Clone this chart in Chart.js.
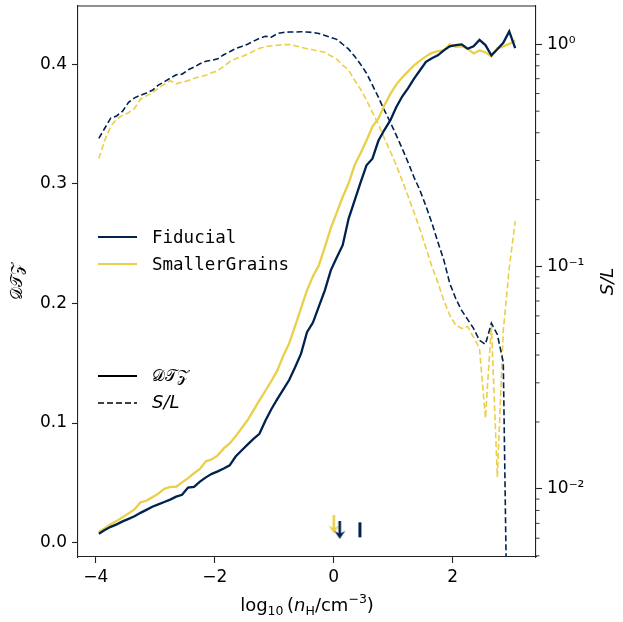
<!DOCTYPE html>
<html><head><meta charset="utf-8">
<script src="https://cdn.jsdelivr.net/npm/chart.js@4.4.0/dist/chart.umd.min.js"></script>
<style>html,body{margin:0;padding:0;background:#fff;}#wrap{width:623px;height:622px;}</style>
</head><body><div id="wrap"><canvas id="c" width="623" height="622"></canvas></div>
<script>
// ---------------- data ----------------
const logNH = [-3.95,-3.85,-3.75,-3.65,-3.55,-3.45,-3.35,-3.25,-3.15,-3.05,
  -2.95,-2.85,-2.75,-2.65,-2.55,-2.45,-2.35,-2.25,-2.15,-2.05,
  -1.95,-1.85,-1.75,-1.65,-1.55,-1.45,-1.35,-1.25,-1.15,-1.05,
  -0.95,-0.85,-0.75,-0.65,-0.55,-0.45,-0.35,-0.25,-0.15,-0.05,
  0.05,0.15,0.25,0.35,0.45,0.55,0.65,0.75,0.85,0.95,
  1.05,1.15,1.25,1.35,1.45,1.55,1.65,1.75,1.85,1.95,
  2.05,2.15,2.25,2.35,2.45,2.55,2.65,2.75,2.85,2.95,3.05];
const dtzFiducial = [0.0075,0.0105,0.0132,0.0153,0.0178,0.0199,0.022,0.0249,0.0274,0.030,
  0.032,0.034,0.036,0.0385,0.040,0.046,0.0467,0.051,0.0546,0.0575,
  0.0596,0.062,0.0646,0.072,0.077,0.082,0.0868,0.091,0.102,0.1115,
  0.120,0.128,0.136,0.1466,0.158,0.176,0.184,0.1976,0.211,0.2277,
  0.2385,0.2487,0.271,0.286,0.301,0.3155,0.321,0.336,0.345,0.353,
  0.364,0.373,0.380,0.388,0.395,0.402,0.405,0.4075,0.4116,0.415,
  0.416,0.4166,0.413,0.415,0.4204,0.416,0.4075,0.4125,0.418,0.4275,0.4135];
const dtzSmaller = [0.0089,0.012,0.0153,0.0182,0.0212,0.0245,0.0278,0.0337,0.035,0.038,
  0.041,0.045,0.0467,0.0467,0.0504,0.054,0.058,0.0617,0.068,0.0697,
  0.073,0.0788,0.083,0.0889,0.0956,0.1023,0.1106,0.119,0.127,0.135,
  0.144,0.156,0.1666,0.181,0.196,0.211,0.2227,0.232,0.247,0.263,
  0.276,0.289,0.3005,0.3155,0.3255,0.3363,0.3478,0.3545,0.3656,0.375,
  0.383,0.389,0.394,0.399,0.403,0.4066,0.4095,0.411,0.4115,0.4166,
  0.4145,0.415,0.413,0.409,0.4115,0.410,0.4066,0.4133,0.415,0.417,0.4198];
const slFiducial = [0.377,0.419,0.465,0.476,0.500,0.548,0.574,0.590,0.603,0.621,
  0.655,0.678,0.703,0.729,0.733,0.767,0.789,0.817,0.839,0.847,
  0.861,0.897,0.925,0.957,0.977,1.0,1.032,1.064,1.086,1.075,
  1.117,1.130,1.135,1.135,1.138,1.135,1.130,1.117,1.096,1.074,
  1.052,1.0,0.951,0.883,0.813,0.741,0.655,0.578,0.505,0.446,
  0.390,0.340,0.294,0.252,0.220,0.187,0.157,0.129,0.107,0.0841,
  0.0719,0.0635,0.0579,0.0527,0.0466,0.0447,0.0556,0.0495,0.0371,0.0005,0.0001];
const slSmaller = [0.306,0.370,0.428,0.460,0.480,0.492,0.515,0.566,0.586,0.607,
  0.634,0.661,0.685,0.664,0.675,0.685,0.703,0.715,0.726,0.745,
  0.760,0.796,0.834,0.861,0.879,0.902,0.931,0.959,0.975,0.984,
  0.990,0.995,0.998,0.984,0.969,0.955,0.944,0.931,0.920,0.887,
  0.857,0.805,0.764,0.689,0.628,0.560,0.494,0.437,0.378,0.330,
  0.286,0.244,0.207,0.175,0.147,0.121,0.100,0.0849,0.0705,0.0604,
  0.0545,0.0527,0.0538,0.0481,0.0429,0.0208,0.0545,0.0113,0.0516,0.0982,0.160];
// bottom markers (x = log10 nH, y = DTZ)
const arrowSmaller = [{x: 0.0, y: 0.0153}];
const arrowFiducial = [{x: 0.1, y: 0.0107}];
const barFiducial = [{x: 0.44, y: 0.0107}];
// ticks
const xTicks = [-4, -2, 0, 2];
const yTicks = [0.0, 0.1, 0.2, 0.3, 0.4];
const slTicks = [0.01, 0.1, 1];
const slTickLabels = ['10\u207B\u00B2', '10\u207B\u00B9', '10\u2070'];
const seriesNames = ['Fiducial', 'SmallerGrains'];
const styleNames = ['\uD835\uDC9F\uD835\uDCAF\uD835\uDCB5', 'S/L'];

// ---------------- styles ----------------
const DARK = '#00224e';
const YELLOW = '#eacf48';
const AX = '#222';
const AREA = {left: 78, top: 6, right: 536, bottom: 557};

function makeArrow(color) {
  const c = document.createElement('canvas');
  c.width = 12; c.height = 18;
  const g = c.getContext('2d');
  g.strokeStyle = color; g.fillStyle = color; g.lineWidth = 2.6;
  g.beginPath(); g.moveTo(6, 0); g.lineTo(6, 13); g.stroke();
  g.beginPath(); g.moveTo(0.5, 10); g.lineTo(6, 18); g.lineTo(11.5, 10); g.lineTo(6, 13); g.closePath(); g.fill();
  return c;
}

const fitTo = (prop, val) => (s) => {
  s[prop] = val;
  s.paddingTop = 0; s.paddingBottom = 0; s.paddingLeft = 0; s.paddingRight = 0;
};
const tickFont = {family: 'DejaVu Sans', size: 17};

const extras = {
  id: 'extras',
  afterLayout(chart) {
    const a = chart.chartArea;
    Object.assign(a, AREA);
    a.width = AREA.right - AREA.left; a.height = AREA.bottom - AREA.top;
    const {x, y, y2} = chart.scales;
    [y, y2].forEach(s => { s.top = AREA.top; s.bottom = AREA.bottom; s.height = AREA.bottom - AREA.top; });
    y.right = AREA.left; y.left = 0; y.width = AREA.left;
    y2.left = AREA.right; y2.right = 623; y2.width = 623 - AREA.right;
    x.left = AREA.left; x.right = AREA.right; x.width = AREA.right - AREA.left;
    x.top = AREA.bottom; x.bottom = 622; x.height = 622 - AREA.bottom;
    [x, y, y2].forEach(s => s.configure());
  },
  afterDraw(chart) {
    const ctx = chart.ctx, a = chart.chartArea;
    const y2 = chart.scales.y2;
    ctx.save();
    // top spine
    ctx.strokeStyle = AX; ctx.lineWidth = 1.1;
    ctx.beginPath(); ctx.moveTo(a.left, a.top); ctx.lineTo(a.right, a.top); ctx.stroke();
    // minor log ticks on the right axis
    ctx.lineWidth = 0.9;
    for (let e = -3; e <= 0; e++) {
      for (let m = 2; m <= 9; m++) {
        const v = m * Math.pow(10, e);
        if (v < y2.min || v > y2.max) continue;
        const py = y2.getPixelForValue(v);
        ctx.beginPath(); ctx.moveTo(a.right, py); ctx.lineTo(a.right + 3.5, py); ctx.stroke();
      }
    }
    ctx.fillStyle = '#000';
    // left title
    ctx.save();
    ctx.translate(18, (a.top + a.bottom) / 2); ctx.rotate(-Math.PI / 2);
    ctx.font = '15.5px "DejaVu Sans", "DejaVu Serif", serif';
    ctx.textAlign = 'center'; ctx.textBaseline = 'middle';
    ctx.fillText(styleNames[0], 0, 0);
    ctx.restore();
    // right title
    ctx.save();
    ctx.translate(608, (a.top + a.bottom) / 2); ctx.rotate(-Math.PI / 2);
    ctx.font = 'italic 18px "DejaVu Sans"';
    ctx.textAlign = 'center'; ctx.textBaseline = 'middle';
    ctx.fillText(styleNames[1], 0, 0);
    ctx.restore();
    // x title with sub/superscripts
    const parts = [
      ['log', '18px "DejaVu Sans"', 0], ['10', '12.5px "DejaVu Sans"', 4],
      ['\u2009(', '18px "DejaVu Sans"', 0], ['n', 'italic 18px "DejaVu Sans"', 0],
      ['H', '12.5px "DejaVu Sans"', 4], ['/cm', '18px "DejaVu Sans"', 0],
      ['\u22123', '12.5px "DejaVu Sans"', -8], [')', '18px "DejaVu Sans"', 0]
    ];
    let w = 0;
    parts.forEach(p => { ctx.font = p[1]; w += ctx.measureText(p[0]).width; });
    let x = (a.left + a.right) / 2 - w / 2;
    ctx.textAlign = 'left'; ctx.textBaseline = 'alphabetic';
    parts.forEach(p => { ctx.font = p[1]; ctx.fillText(p[0], x, 611 + p[2]); x += ctx.measureText(p[0]).width; });
    // legends
    const L0 = 98, L1 = 137, TX = 152;
    ctx.textBaseline = 'middle';
    ctx.lineWidth = 2.2; ctx.setLineDash([]);
    ctx.strokeStyle = DARK; ctx.beginPath(); ctx.moveTo(L0, 237); ctx.lineTo(L1, 237); ctx.stroke();
    ctx.strokeStyle = YELLOW; ctx.beginPath(); ctx.moveTo(L0, 264); ctx.lineTo(L1, 264); ctx.stroke();
    ctx.font = '17.5px "DejaVu Sans Mono"';
    ctx.fillText(seriesNames[0], TX, 238);
    ctx.fillText(seriesNames[1], TX, 265);
    ctx.strokeStyle = '#000';
    ctx.beginPath(); ctx.moveTo(L0, 376); ctx.lineTo(L1, 376); ctx.stroke();
    ctx.lineWidth = 1.6; ctx.setLineDash([6, 3]);
    ctx.beginPath(); ctx.moveTo(L0, 403); ctx.lineTo(L1, 403); ctx.stroke();
    ctx.setLineDash([]);
    ctx.font = '15.5px "DejaVu Sans", "DejaVu Serif", serif';
    ctx.fillText(styleNames[0], TX, 377);
    ctx.font = 'italic 18px "DejaVu Sans"';
    ctx.fillText(styleNames[1], TX, 403);
    ctx.restore();
  }
};

const pts = (xs, ys) => xs.map((x, i) => ({x: x, y: ys[i]}));

new Chart(document.getElementById('c'), {
  type: 'scatter',
  data: {
    datasets: [
      {label: 'SL ' + seriesNames[1], data: pts(logNH, slSmaller), yAxisID: 'y2', showLine: true,
       borderColor: YELLOW, borderWidth: 1.6, borderDash: [6, 3], pointRadius: 0, order: 8},
      {label: 'SL ' + seriesNames[0], data: pts(logNH, slFiducial), yAxisID: 'y2', showLine: true,
       borderColor: DARK, borderWidth: 1.6, borderDash: [6, 3], pointRadius: 0, order: 7},
      {label: 'DTZ ' + seriesNames[1], data: pts(logNH, dtzSmaller), yAxisID: 'y', showLine: true,
       borderColor: YELLOW, borderWidth: 2.3, pointRadius: 0, order: 6},
      {label: 'DTZ ' + seriesNames[0], data: pts(logNH, dtzFiducial), yAxisID: 'y', showLine: true,
       borderColor: DARK, borderWidth: 2.3, pointRadius: 0, order: 5},
      {label: 'arrowS', data: arrowSmaller, yAxisID: 'y', pointStyle: makeArrow(YELLOW), order: 3},
      {label: 'arrowF', data: arrowFiducial, yAxisID: 'y', pointStyle: makeArrow(DARK), order: 2},
      {label: 'barF', data: barFiducial, yAxisID: 'y', pointStyle: 'line', rotation: 90, radius: 7.5,
       pointRadius: 7.5, borderWidth: 3, borderColor: DARK, backgroundColor: DARK, order: 1}
    ]
  },
  options: {
    responsive: false, animation: false, devicePixelRatio: 1,
    layout: {padding: {top: 6, left: 0, right: 0, bottom: 0}},
    plugins: {legend: {display: false}, tooltip: {enabled: false}},
    elements: {line: {tension: 0}},
    scales: {
      x: {type: 'linear', position: 'bottom', min: -4.3, max: 3.4,
        grid: {drawOnChartArea: false, tickLength: 6, tickColor: AX, tickWidth: 1.1},
        border: {color: AX, width: 1.1},
        ticks: {font: tickFont, color: '#000', padding: 4, maxRotation: 0, autoSkip: false,
          callback: v => String(v).replace('-', '\u2212')},
        afterBuildTicks: s => { s.ticks = xTicks.map(v => ({value: v})); },
        afterFit: fitTo('height', 65)},
      y: {type: 'linear', position: 'left', min: -0.012, max: 0.4487,
        grid: {drawOnChartArea: false, tickLength: 6, tickColor: AX, tickWidth: 1.1},
        border: {color: AX, width: 1.1},
        ticks: {font: tickFont, color: '#000', padding: 5, callback: v => v.toFixed(1)},
        afterBuildTicks: s => { s.ticks = yTicks.map(v => ({value: v})); },
        afterFit: fitTo('width', 78)},
      y2: {type: 'logarithmic', position: 'right', min: 0.00494, max: 1.486,
        grid: {drawOnChartArea: false, tickLength: 6, tickColor: AX, tickWidth: 1.1},
        border: {color: AX, width: 1.1},
        ticks: {font: tickFont, color: '#000', padding: 5,
          callback: (v) => { const i = slTicks.findIndex(t => Math.abs(t - v) < 1e-9); return i >= 0 ? slTickLabels[i] : ''; }},
        afterBuildTicks: s => { s.ticks = slTicks.map(v => ({value: v})); },
        afterFit: fitTo('width', 87)}
    }
  },
  plugins: [extras]
});
</script></body></html>
